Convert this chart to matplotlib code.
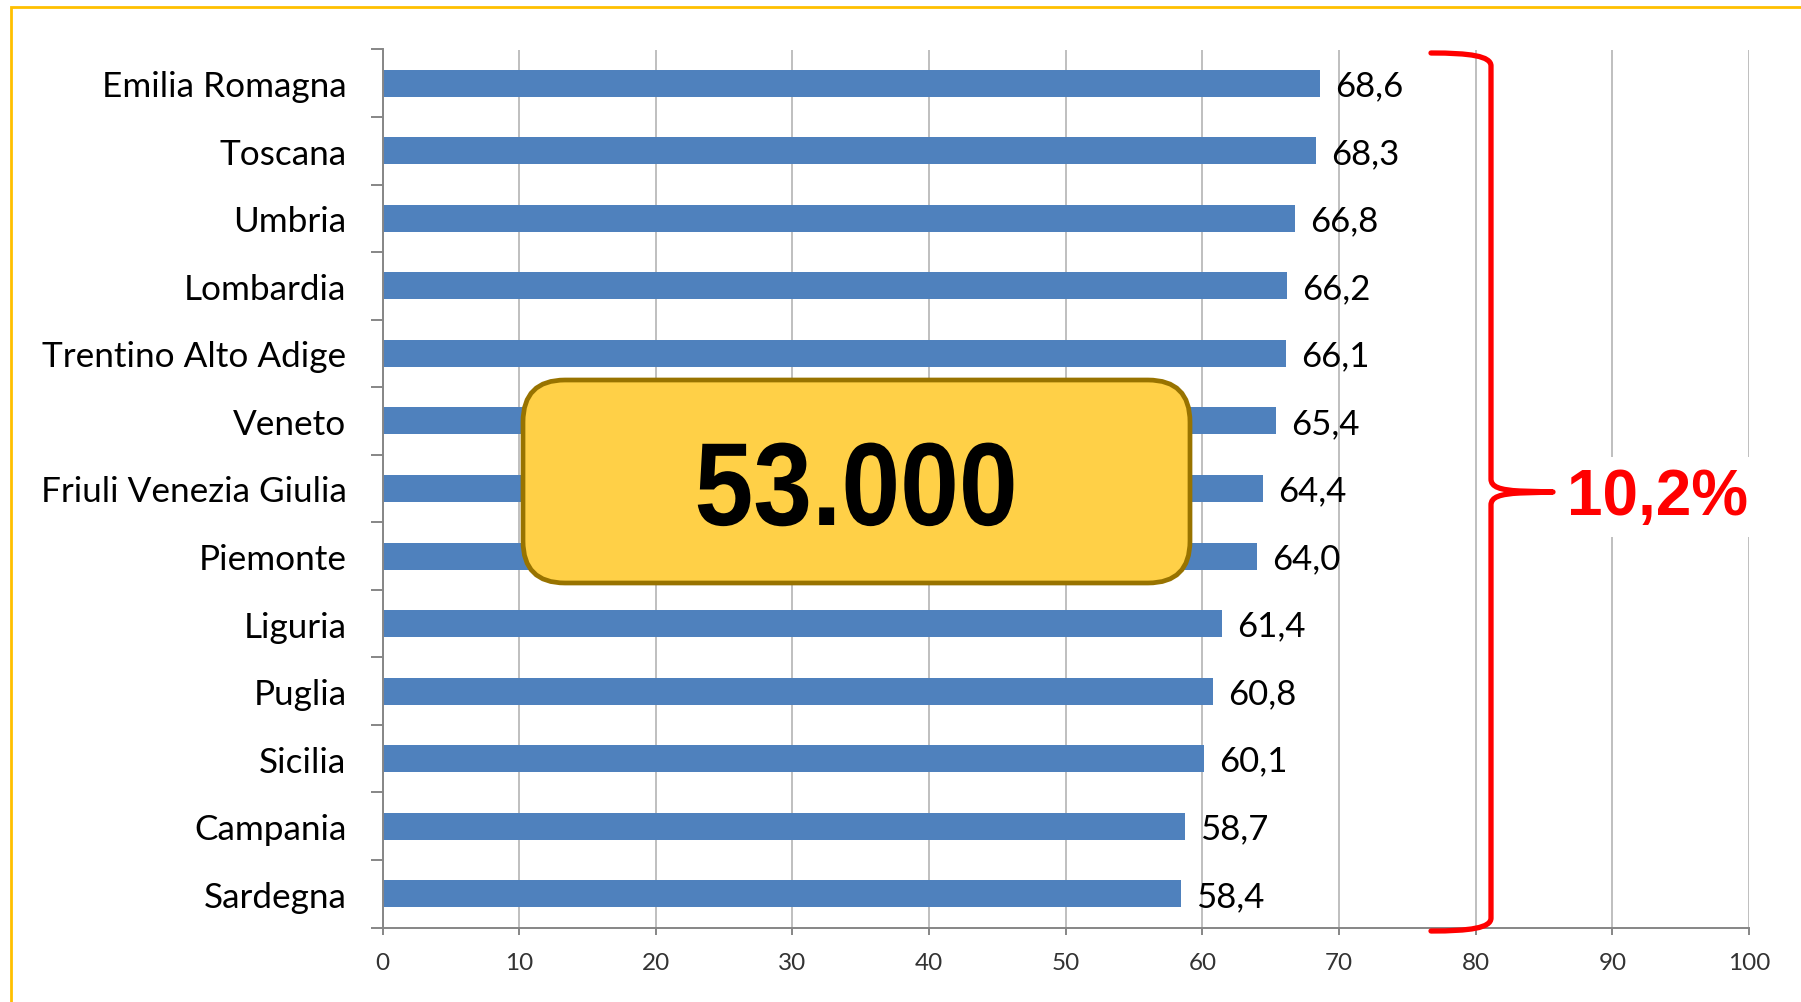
import matplotlib
matplotlib.use("Agg")
import matplotlib.pyplot as plt
from matplotlib.patches import FancyBboxPatch, PathPatch, Rectangle
from matplotlib.path import Path
from matplotlib.patheffects import AbstractPathEffect
from matplotlib.transforms import Affine2D
import numpy as np

regions = ["Emilia Romagna", "Toscana", "Umbria", "Lombardia", "Trentino Alto Adige",
           "Veneto", "Friuli Venezia Giulia", "Piemonte", "Liguria", "Puglia",
           "Sicilia", "Campania", "Sardegna"]
values = [68.6, 68.3, 66.8, 66.2, 66.1, 65.4, 64.4, 64.0, 61.4, 60.8, 60.1, 58.7, 58.4]
x_ticks = [0, 10, 20, 30, 40, 50, 60, 70, 80, 90, 100]
box_text = "53.000"
brace_text = "10,2%"

W, H = 1801, 1003
fig = plt.figure(figsize=(W / 100, H / 100), dpi=100)
fig.patch.set_facecolor("white")

ax_l, ax_r, ax_t, ax_b = 382.5, 1749.0, 50.5, 928.5
ax = fig.add_axes([ax_l / W, 1 - ax_b / H, (ax_r - ax_l) / W, (ax_b - ax_t) / H])

y = np.arange(len(regions))
ax.barh(y, values, height=0.4, color="#4F81BD", zorder=2)
ax.set_ylim(len(regions) - 0.5, -0.5)
ax.set_xlim(0, 100)
ax.set_xticks(x_ticks)
ax.set_xticklabels([str(t) for t in x_ticks])
ax.set_yticks(y)
ax.set_yticklabels(regions)
ax.set_yticks(np.arange(-0.5, len(regions), 1.0), minor=True)

cat_font = "Lato"
for lab in ax.get_yticklabels():
    lab.set_fontfamily(cat_font)
    lab.set_fontsize(25.3)
    lab.set_color("#000000")
for lab in ax.get_xticklabels():
    lab.set_fontfamily(cat_font)
    lab.set_fontsize(17.5)
    lab.set_color("#333333")

ax.tick_params(axis="y", which="major", length=0, pad=26)
ax.tick_params(axis="y", which="minor", length=8.5, width=1.4, color="#868686", direction="out")
ax.tick_params(axis="x", which="major", length=5, width=1.4, color="#868686", direction="out", pad=13)

ax.grid(axis="x", color="#BFBFBF", linewidth=1.4, zorder=0)
ax.set_axisbelow(True)
for s in ["top", "right"]:
    ax.spines[s].set_visible(False)
for s in ["left", "bottom"]:
    ax.spines[s].set_color("#868686")
    ax.spines[s].set_linewidth(1.4)

for yi, v in zip(y, values):
    ax.annotate(f"{v:.1f}".replace(".", ","), xy=(v, yi), xytext=(11, -1.5),
                textcoords="offset points", ha="left", va="center",
                fontsize=25, fontfamily=cat_font, color="#000000")

# inches transform helpers (pixel coords, y down)
T = fig.dpi_scale_trans
def P(px, py):
    return (px / 100.0, (H - py) / 100.0)


class Squeeze(AbstractPathEffect):
    """Horizontally condense text about a display x position."""
    def __init__(self, sx, cx):
        super().__init__()
        self.sx = sx
        self.cx = cx

    def draw_path(self, renderer, gc, tpath, affine, rgbFace=None):
        aff = affine + Affine2D().translate(-self.cx, 0).scale(self.sx, 1).translate(self.cx, 0)
        renderer.draw_path(gc, tpath, aff, rgbFace)


# orange frame
frame = Rectangle(P(11, H + 20), (W + 20 - 11) / 100.0, (H + 20 - 8) / 100.0,
                  transform=T, fill=False, edgecolor="#FFC000", linewidth=2.0, zorder=10)
fig.patches.append(frame)

# yellow box
bx0, bx1, by0, by1 = 523, 1190, 381, 584
box = FancyBboxPatch(P(bx0, by1), (bx1 - bx0) / 100.0, (by1 - by0) / 100.0,
                     boxstyle="round,pad=0,rounding_size=0.42", transform=T,
                     facecolor="#FFD047", edgecolor="#987300", linewidth=3.4, zorder=10)
fig.patches.append(box)
cx_box = 856
fig.text(*P(cx_box, 526), box_text, transform=T, ha="center", va="baseline",
         fontsize=85, fontweight="bold", family=["Liberation Sans", "DejaVu Sans"],
         color="#000000", zorder=11,
         path_effects=[Squeeze(0.895, cx_box * fig.dpi / 100.0)])

# red brace
verts = [P(1431, 54), P(1470, 54), P(1491, 57), P(1491, 67),
         P(1491, 480),
         P(1491, 488), P(1500, 491), P(1520, 492),
         P(1553, 493),
         P(1520, 494),
         P(1500, 495), P(1491, 498), P(1491, 506),
         P(1491, 919),
         P(1491, 929), P(1470, 932), P(1431, 932)]
codes = [Path.MOVETO, Path.CURVE4, Path.CURVE4, Path.CURVE4,
         Path.LINETO,
         Path.CURVE4, Path.CURVE4, Path.CURVE4,
         Path.LINETO,
         Path.LINETO,
         Path.CURVE4, Path.CURVE4, Path.CURVE4,
         Path.LINETO,
         Path.CURVE4, Path.CURVE4, Path.CURVE4]
brace = PathPatch(Path(verts, codes), transform=T, fill=False, edgecolor="#FF0000",
                  linewidth=3.8, capstyle="round", joinstyle="round", zorder=10)
fig.patches.append(brace)
fig.text(*P(1567, 515), brace_text, transform=T, ha="left", va="baseline",
         fontsize=46, fontweight="bold", family=["Liberation Sans", "DejaVu Sans"],
         color="#FF0000", zorder=11,
         bbox=dict(boxstyle="square,pad=0.15", facecolor="white", edgecolor="none"))

fig.savefig("out.png", dpi=100, facecolor="white")
